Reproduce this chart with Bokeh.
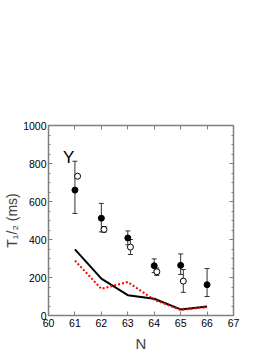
from bokeh.plotting import figure
from bokeh.models import (ColumnDataSource, Whisker, TeeHead, FixedTicker,
                          LinearAxis, Label, Range1d)
from bokeh.embed import file_html
from bokeh.resources import INLINE

nan = float("nan")

# ---- data ----
N_filled = [61, 62, 63, 64, 65, 66]
T_filled = [660, 512, 408, 262, 264, 162]
T_filled_lo = [537, 440, 372, 226, 216, 100]
T_filled_hi = [812, 590, 445, 298, 324, 247]

N_open = [61.1, 62.1, 63.1, 64.1, 65.1]
T_open = [733, 453, 360, 230, 181]
T_open_lo = [nan, 438, 321, 211, 122]
T_open_hi = [nan, 468, 400, 250, 242]

N_calc = [61, 62, 63, 64, 65, 66]
T_calc_black = [348, 194, 107, 88, 32, 47]
T_calc_red = [289, 140, 176, 83, 29, 44]

x_ticks = [60, 61, 62, 63, 64, 65, 66, 67]
y_ticks = [0, 200, 400, 600, 800, 1000]
y_minor = list(range(0, 1001, 50))

FONT = "Liberation Sans"
AX = "#808080"

p = figure(frame_width=185, frame_height=190,
           min_border_left=48, min_border_right=38,
           min_border_top=125, min_border_bottom=36,
           x_range=Range1d(60, 67), y_range=Range1d(0, 1000),
           output_backend="svg", toolbar_location=None)
p.grid.visible = False
p.outline_line_color = None
p.background_fill_color = "white"
p.border_fill_color = "white"


def style_axis(ax, ticks, minor, show_labels):
    ax.ticker = FixedTicker(ticks=ticks, minor_ticks=minor)
    ax.axis_line_color = AX
    ax.axis_line_width = 1.5
    ax.major_tick_line_color = AX
    ax.minor_tick_line_color = AX
    ax.major_tick_in = 4
    ax.major_tick_out = 0
    ax.minor_tick_in = 2
    ax.minor_tick_out = 0
    ax.major_label_text_font = FONT
    ax.major_label_text_font_size = "10.5px"
    ax.major_label_text_color = "black"
    ax.major_label_standoff = 3
    if not show_labels:
        ax.major_label_overrides = {t: "" for t in ticks}


style_axis(p.xaxis[0], x_ticks, [], True)
style_axis(p.yaxis[0], y_ticks, y_minor, True)
p.xaxis[0].axis_label = "N"
p.xaxis[0].axis_label_text_font = FONT
p.xaxis[0].axis_label_text_font_size = "15px"
p.xaxis[0].axis_label_text_font_style = "normal"
p.xaxis[0].axis_label_standoff = 5

p.yaxis[0].major_label_standoff = 2
p.yaxis[0].axis_label = "T\u2081/\u2082 (ms)"
p.yaxis[0].axis_label_text_font = FONT
p.yaxis[0].axis_label_text_font_size = "14px"
p.yaxis[0].axis_label_text_font_style = "normal"
p.yaxis[0].axis_label_standoff = 0

top = LinearAxis()
style_axis(top, x_ticks, [], False)
p.add_layout(top, "above")
right = LinearAxis()
style_axis(right, y_ticks, y_minor, False)
p.add_layout(right, "right")

# calculated curves
p.line(N_calc, T_calc_black, line_color="black", line_width=2)
p.line(N_calc, T_calc_red, line_color="red", line_width=2, line_dash="2 2")

# error bars
src_f = ColumnDataSource(dict(x=N_filled, y=T_filled, lo=T_filled_lo, hi=T_filled_hi))
src_o = ColumnDataSource(dict(x=N_open, y=T_open, lo=T_open_lo, hi=T_open_hi))
for src in (src_f, src_o):
    w = Whisker(base="x", lower="lo", upper="hi", source=src,
                line_color="#333333", line_width=1,
                upper_head=TeeHead(size=5, line_color="#333333", line_width=1),
                lower_head=TeeHead(size=5, line_color="#333333", line_width=1))
    p.add_layout(w)

p.scatter("x", "y", source=src_f, marker="circle", size=6,
          fill_color="black", line_color="black")
p.scatter("x", "y", source=src_o, marker="circle", size=6,
          fill_color="white", line_color="black", line_width=1)

# element label
p.add_layout(Label(x=60.76, y=830, text="Y", text_align="center",
                   text_baseline="alphabetic", text_font=FONT,
                   text_font_size="17px", text_color="black"))

open("out.html", "w").write(file_html(p, INLINE))
